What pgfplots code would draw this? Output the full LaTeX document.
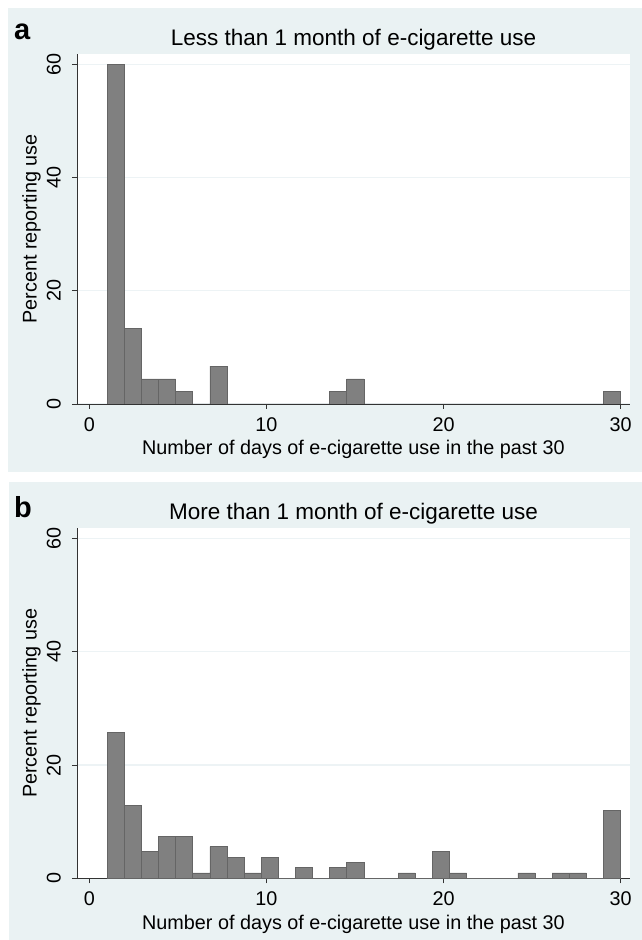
\documentclass[border=0pt]{standalone}
\usepackage{fontspec}
\setmainfont{Liberation Sans}
\usepackage{pgfplots}
\pgfplotsset{compat=1.18}
\usepackage{pgfplotstable}

\definecolor{bgc}{HTML}{EAF2F3}
\definecolor{barc}{HTML}{808080}
\definecolor{barline}{HTML}{656565}
\definecolor{gridc}{HTML}{EDF3F5}
\definecolor{axc}{HTML}{333333}

% 30 bins of width 29/30 from 1 to 30; the last row only closes the interval
\pgfplotstableread{
x y
1.0000 60.00
1.9667 13.33
2.9333 4.44
3.9000 4.44
4.8667 2.22
5.8333 0
6.8000 6.67
7.7667 0
8.7333 0
9.7000 0
10.6667 0
11.6333 0
12.6000 0
13.5667 2.22
14.5333 4.44
15.5000 0
16.4667 0
17.4333 0
18.4000 0
19.3667 0
20.3333 0
21.3000 0
22.2667 0
23.2333 0
24.2000 0
25.1667 0
26.1333 0
27.1000 0
28.0667 0
29.0333 2.22
30.0000 0
}\lessmonth

\pgfplotstableread{
x y
1.0000 25.7
1.9667 12.9
2.9333 4.7
3.9000 7.4
4.8667 7.4
5.8333 0.95
6.8000 5.6
7.7667 3.7
8.7333 0.95
9.7000 3.7
10.6667 0
11.6333 1.9
12.6000 0
13.5667 1.9
14.5333 2.8
15.5000 0
16.4667 0
17.4333 0.95
18.4000 0
19.3667 4.7
20.3333 0.95
21.3000 0
22.2667 0
23.2333 0
24.2000 0.95
25.1667 0
26.1333 0.95
27.1000 0.95
28.0667 0
29.0333 12.0
30.0000 0
}\moremonth

\pgfplotsset{
  hist/.style={
    scale only axis, width=553pt, height=350pt,
    xmin=-0.70, xmax=30.53, ymin=0, ymax=61.8,
    axis lines=left,
    axis line style={-, draw=axc, line width=0.9pt},
    xtick={0,10,20,30}, ytick={0,20,40,60},
    tick align=outside, major tick length=5pt,
    tick style={draw=axc, line width=0.9pt},
    ymajorgrids, grid style={draw=gridc, line width=1.2pt},
    axis background/.style={fill=white},
    /pgf/number format/assume math mode=true,
    ticklabel style={font=\fontsize{19.8}{20}\selectfont, inner sep=0pt},
    xticklabel style={anchor=north, yshift=-8pt},
    yticklabel style={xshift=-11pt, rotate=90, anchor=south},
    xlabel={Number of days of e-cigarette use in the past 30},
    ylabel={Percent reporting use},
    label style={font=\fontsize{19.8}{20}\selectfont, inner sep=0pt},
    xlabel style={at={(axis description cs:0.5,0)}, anchor=base, yshift=-51pt},
    ylabel style={at={(axis description cs:0,0.5)}, anchor=base, yshift=40.3pt},
    title style={font=\fontsize{22.5}{24}\selectfont, inner sep=0pt,
      at={(axis description cs:0.5,1)}, anchor=base, yshift=2.5pt},
  },
  bars/.style={ybar interval, fill=barc, draw=barline, line width=0.6pt},
}

\begin{document}
\begin{tikzpicture}
\path[use as bounding box, fill=white] (0pt,0pt) rectangle (642pt,940pt);
\fill[bgc] (8pt,468.3pt) rectangle (642pt,932pt);
\fill[bgc] (9pt,0pt) rectangle (642pt,457.7pt);

\begin{axis}[hist, at={(77pt,536pt)}, anchor=south west,
  title={Less than 1 month of e-cigarette use}]
\addplot[bars] table[x=x, y=y] {\lessmonth};
\end{axis}
\node[anchor=base west, inner sep=0pt, font=\fontsize{29}{30}\selectfont\bfseries] at (14pt,900.5pt) {a};

\begin{axis}[hist, at={(77pt,61.7pt)}, anchor=south west,
  title={More than 1 month of e-cigarette use}]
\addplot[bars] table[x=x, y=y] {\moremonth};
\end{axis}
\node[anchor=base west, inner sep=0pt, font=\fontsize{29}{30}\selectfont\bfseries] at (14pt,422pt) {b};
\end{tikzpicture}
\end{document}
